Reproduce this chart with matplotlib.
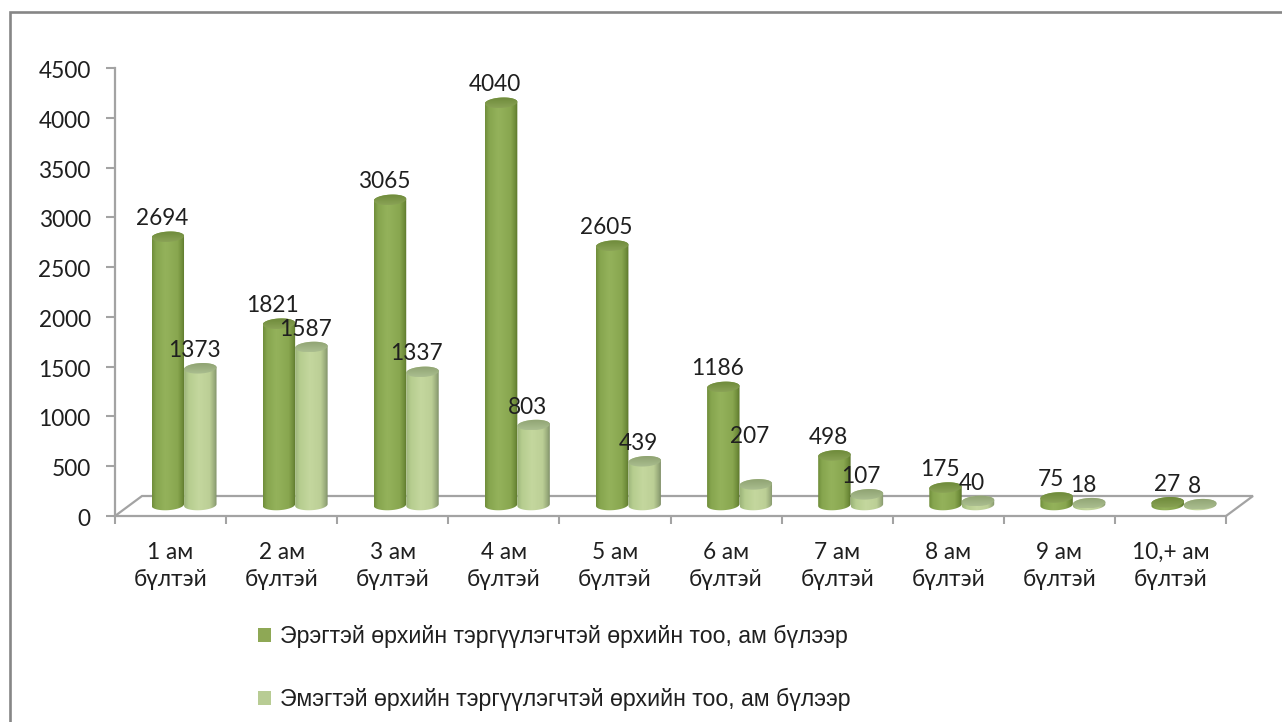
import numpy as np
import matplotlib
matplotlib.use("Agg")
import matplotlib.pyplot as plt
from matplotlib.colors import LinearSegmentedColormap
from matplotlib.lines import Line2D
from matplotlib.patches import Patch
from matplotlib.path import Path
from matplotlib.transforms import ScaledTranslation

W, H = 1282, 722

categories = ["1 ам\nбүлтэй", "2 ам\nбүлтэй", "3 ам\nбүлтэй", "4 ам\nбүлтэй", "5 ам\nбүлтэй",
              "6 ам\nбүлтэй", "7 ам\nбүлтэй", "8 ам\nбүлтэй", "9 ам\nбүлтэй", "10,+ ам\nбүлтэй"]
male_values = [2694, 1821, 3065, 4040, 2605, 1186, 498, 175, 75, 27]
female_values = [1373, 1587, 1337, 803, 439, 207, 107, 40, 18, 8]
male_name = "Эрэгтэй өрхийн тэргүүлэгчтэй өрхийн тоо, ам бүлээр"
female_name = "Эмэгтэй өрхийн тэргүүлэгчтэй өрхийн тоо, ам бүлээр"
y_ticks = list(range(0, 5000, 500))

plt.rcParams['font.family'] = ['Lato', 'Open Sans', 'DejaVu Sans']
LABEL_FS = 16.3
TEXT = "#1f1f1f"
AXC = "#a3a3a3"

fig = plt.figure(figsize=(W / 100, H / 100), dpi=100, facecolor="white")
L, R, T, B = 115, 1226, 68, 516
ax = fig.add_axes([L / W, (H - B) / H, (R - L) / W, (B - T) / H])

# pixel to data scale
sx = len(categories) / (R - L)
sy = 4500 / (B - T)

cm_dark = LinearSegmentedColormap.from_list("d", [(0, "#6f8d3a"), (.12, "#86a54e"), (.4, "#94b25b"),
                                                  (.78, "#89a750"), (.93, "#6d8a38"), (1, "#587229")])
cm_light = LinearSegmentedColormap.from_list("l", [(0, "#9cb47a"), (.15, "#b6cd8f"), (.45, "#c4d79e"),
                                                   (.78, "#bccf96"), (.93, "#98aa7a"), (1, "#7f8f68")])
cap_dark = LinearSegmentedColormap.from_list("cd", ["#8aa356", "#6e8a3a"])
cap_light = LinearSegmentedColormap.from_list("cl", ["#abbe90", "#8fa372"])
grad = np.linspace(0, 1, 128).reshape(1, -1)
grad_v = np.linspace(0, 1, 32).reshape(-1, 1)

BAR_W = 32.5      # px
HALF_H = 5.2      # px
BASE = 11.0       # px above the axis line
TILT = np.deg2rad(3.5)


def arc(cx, cy, t):
    """Ellipse points around a data-space centre, sized in pixels and slightly tilted."""
    ex = BAR_W / 2 * np.cos(t)
    ey = HALF_H * np.sin(t)
    px = ex * np.cos(TILT) - ey * np.sin(TILT)
    py = ex * np.sin(TILT) + ey * np.cos(TILT)
    return np.column_stack([cx + px * sx, cy + py * sy])


def draw_cylinder(center, value, cmap, cap_cmap, z):
    y0 = BASE * sy
    y1 = y0 + value
    half_w = BAR_W / 2 * sx
    lower = arc(center, y0, np.linspace(np.pi, 2 * np.pi, 40))
    upper = arc(center, y1, np.linspace(0, np.pi, 40))
    outline = np.vstack([lower, upper, lower[:1]])
    im = ax.imshow(grad, cmap=cmap, aspect="auto", zorder=z, interpolation="bilinear",
                   extent=(center - half_w, center + half_w,
                           y0 - 2 * HALF_H * sy, y1 + 2 * HALF_H * sy))
    im.set_clip_path(Path(outline), ax.transData)
    cap = arc(center, y1, np.linspace(0, 2 * np.pi, 80))
    im2 = ax.imshow(grad_v, cmap=cap_cmap, aspect="auto", origin="lower", zorder=z + .1,
                    interpolation="bilinear",
                    extent=(center - half_w, center + half_w, cap[:, 1].min(), cap[:, 1].max()))
    im2.set_clip_path(Path(np.vstack([cap, cap[:1]])), ax.transData)


# floor
fx = [(-0, 0), (27 * sx, 20 * sy), ((R - L + 27) * sx, 20 * sy), ((R - L) * sx, 0)]
ax.plot([p[0] for p in fx], [p[1] for p in fx], color=AXC, lw=1.6, zorder=1, clip_on=False,
        solid_capstyle="round", solid_joinstyle="miter")

DX = 13.5 * sx
for i, (m, f) in enumerate(zip(male_values, female_values)):
    mid = i + .5 + DX
    draw_cylinder(mid - BAR_W / 2 * sx, m, cm_dark, cap_dark, 3 + i * .01)
    draw_cylinder(mid + BAR_W / 2 * sx, f, cm_light, cap_light, 3.5 + i * .01)

# a few labels sit away from the usual place above their bar (pixels)
label_nudge = {("f", 5): (0, 30), ("m", 9): (5, 0)}
for i, (m, f) in enumerate(zip(male_values, female_values)):
    mid = i + .5 + DX
    for key, val, xc in (("m", m, mid - BAR_W / 2 * sx), ("f", f, mid + BAR_W / 2 * sx)):
        nx, ny = label_nudge.get((key, i), (0, 0))
        ax.annotate(str(val), xy=(xc, BASE * sy + val), xytext=(-6 + nx, 18 + ny),
                    textcoords="offset pixels", ha="center", va="center", fontsize=LABEL_FS,
                    color=TEXT, zorder=10, annotation_clip=False)

ax.set_xlim(0, len(categories))
ax.set_ylim(0, 4500)
ax.set_yticks(y_ticks)
ax.set_xticks(range(len(categories) + 1))
ax.set_xticklabels([])
ax.set_xticks(np.arange(len(categories)) + .5, categories, minor=True)
ax.tick_params(axis="y", length=6.5, width=1.5, color=AXC, labelsize=LABEL_FS, labelcolor=TEXT, pad=11)
ax.tick_params(axis="x", which="major", length=5.5, width=1.5, color=AXC)
ax.tick_params(axis="x", which="minor", length=0, labelsize=LABEL_FS, labelcolor=TEXT, pad=18.5)
for lab in ax.get_xticklabels(minor=True):
    lab.set_linespacing(1.36)
shift = ScaledTranslation(0, -1.5 / 100, fig.dpi_scale_trans)
for lab in ax.get_yticklabels():
    lab.set_transform(lab.get_transform() + shift)
for s in ("top", "right"):
    ax.spines[s].set_visible(False)
for s in ("left", "bottom"):
    ax.spines[s].set_color(AXC)
    ax.spines[s].set_linewidth(1.6)
ax.patch.set_visible(False)

handles = [Patch(facecolor="#8ea855", label=male_name), Patch(facecolor="#b8cc94", label=female_name)]
fig.legend(handles=handles, loc="upper left", bbox_to_anchor=(258 / W, 1 - 625 / H), frameon=False,
           prop={"family": "Liberation Sans", "size": 16.7}, labelcolor=TEXT,
           handlelength=0.56, handleheight=0.56, handletextpad=0.38, labelspacing=1.72,
           borderpad=0, borderaxespad=0)

# outer frame
fig.add_artist(Line2D([9.5 / W, 9.5 / W, 1], [0, 1 - 12 / H, 1 - 12 / H], color="#868686", lw=1.9,
                      solid_joinstyle="miter"))

fig.savefig("out.png", dpi=100, facecolor="white")
